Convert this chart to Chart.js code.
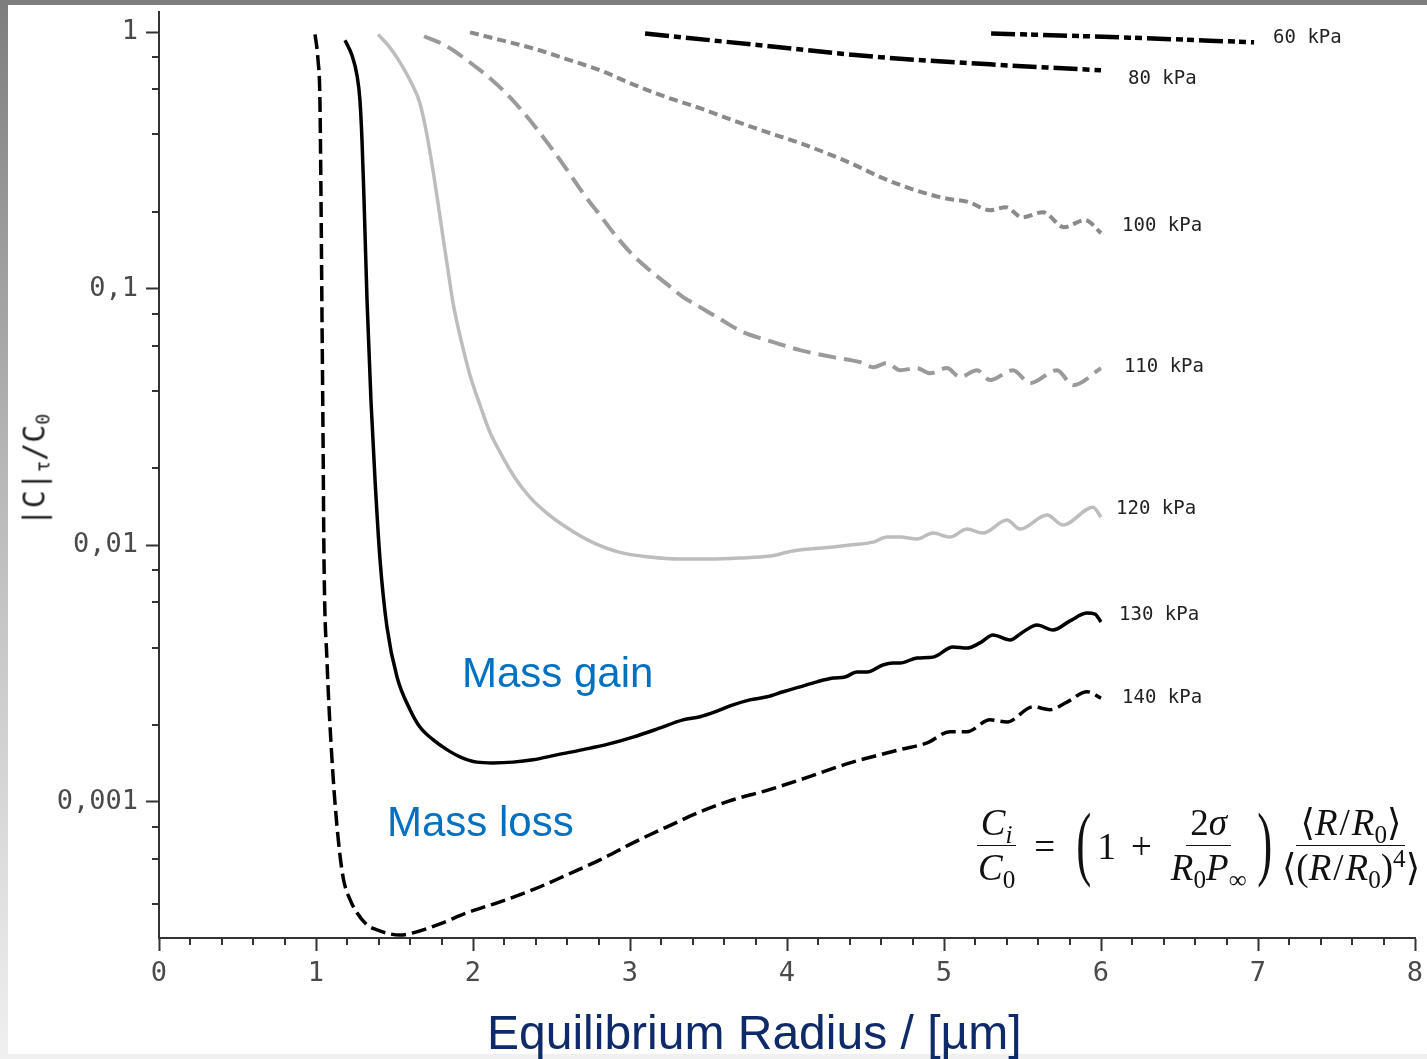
<!DOCTYPE html>
<html>
<head>
<meta charset="utf-8">
<title>Equilibrium radius vs concentration</title>
<script src="https://cdn.jsdelivr.net/npm/chart.js@4.4.1/dist/chart.umd.min.js"></script>
<style>
    html, body { margin: 0; padding: 0; }
    body {
        width: 1427px; height: 1059px; position: relative; overflow: hidden;
        background: linear-gradient(to bottom, #7e7e7e 0%, #b8b8b8 45%, #f0f0f0 100%);
    }
    #panel { position: absolute; left: 8px; top: 5px; width: 1419px; height: 1049px; background: #fff; }
    #chart { position: absolute; left: 0; top: 0; }
    .note { position: absolute; font-family: 'Liberation Sans', Arial, sans-serif; line-height: 1; white-space: nowrap; }
    .mass { font-size: 42px; color: #0070c0; }
    #xTitle { font-size: 48px; color: #0f2a68; left: 487px; top: 1009px; }
    #yTitle {
        position: absolute; left: 34px; top: 470px; white-space: nowrap;
        font-family: 'DejaVu Sans Mono', monospace; font-size: 30px; color: #222;
        transform: translate(-50%, -50%) rotate(-90deg);
    }
    #yTitle sub { font-size: 62%; vertical-align: -0.25em; line-height: 0; }
    #formula {
        position: absolute; left: 974px; top: 800px; height: 92px;
        display: flex; align-items: center;
        font-family: 'Liberation Serif', 'DejaVu Serif', serif; font-size: 37px; color: #111;
    }
    #formula .fr { display: inline-flex; flex-direction: column; align-items: center; }
    #formula .num { border-bottom: 1.5px solid #111; padding: 0 4px 2px; line-height: 1.05; }
    #formula .den { line-height: 1.05; padding: 3px 4px 0; }
    #formula .big { font-size: 82px; font-weight: 100; line-height: 1; display: inline-block; transform: scaleX(0.55); margin: -6px 0 0; }
    #formula .op { margin: 0 15px; }
    #formula .sl { margin: 0 2px; }
    #formula sub, #formula sup { font-size: 68%; line-height: 0; }
</style>
</head>
<body>
<div id="panel"></div>
<canvas id="chart" width="1427" height="1059"></canvas>

<div id="yTitle">|C|<sub>τ</sub>/C<sub>0</sub></div>
<div class="note mass" style="left:462px; top:652px;">Mass gain</div>
<div class="note mass" style="left:387px; top:801px;">Mass loss</div>
<div id="xTitle" class="note">Equilibrium Radius / [µm]</div>
<div id="formula">
    <span class="fr"><span class="num"><i>C<sub>i</sub></i></span><span class="den"><i>C</i><sub>0</sub></span></span>
    <span class="op">=</span>
    <span class="big">(</span>
    <span>1</span><span class="op">+</span>
    <span class="fr"><span class="num">2<i>σ</i></span><span class="den"><i>R</i><sub>0</sub><i>P</i><sub>∞</sub></span></span>
    <span class="big">)</span>
    <span class="fr"><span class="num">⟨<i>R</i><span class="sl">/</span><i>R</i><sub>0</sub>⟩</span><span class="den">⟨(<i>R</i><span class="sl">/</span><i>R</i><sub>0</sub>)<sup>4</sup>⟩</span></span>
</div>

<script>
// equilibrium radius (µm) and |C|τ/C0 for each pressure
const r60 = [5.3, 6.121, 6.975];
const c60 = [0.99, 0.956, 0.914];

const r80 = [3.096, 3.828, 4.529, 5.293, 6.0];
const c80 = [0.99, 0.89, 0.806, 0.75, 0.711];

const r100 = [1.981, 2.172, 2.382, 2.599, 2.809, 3.019, 3.236, 3.446, 3.656, 3.873, 4.083, 4.401,
              4.611, 4.822, 5.006, 5.159, 5.293, 5.395, 5.497, 5.631, 5.764, 5.898, 6.0];
const c100 = [1.0, 0.934, 0.866, 0.785, 0.711, 0.627, 0.558, 0.506, 0.454, 0.408, 0.37, 0.31,
              0.27, 0.242, 0.2256, 0.2177, 0.2026, 0.208, 0.19, 0.199, 0.174, 0.1853, 0.165];

const r110 = [1.688, 1.822, 1.962, 2.108, 2.236, 2.363, 2.490, 2.592, 2.701, 2.809, 2.917, 3.019,
              3.127, 3.236, 3.338, 3.446, 3.554, 3.720, 3.873, 4.083, 4.293, 4.465, 4.548, 4.637,
              4.720, 4.828, 4.911, 5.019, 5.102, 5.210, 5.293, 5.439, 5.548, 5.720, 5.822, 6.0];
const c110 = [0.965, 0.89, 0.778, 0.662, 0.558, 0.454, 0.36, 0.295, 0.236, 0.1937, 0.159, 0.1353,
              0.118, 0.1043, 0.0929, 0.0849, 0.0776, 0.0678, 0.0631, 0.0577, 0.0542, 0.0518, 0.0495, 0.0514,
              0.0482, 0.0491, 0.0469, 0.0491, 0.0453, 0.0482, 0.0441, 0.0482, 0.0429, 0.0482, 0.0421, 0.0491];

const r120 = [1.395, 1.465, 1.535, 1.599, 1.662, 1.707, 1.745, 1.777, 1.809, 1.841, 1.873, 1.924,
              1.981, 2.045, 2.108, 2.172, 2.268, 2.363, 2.478, 2.592, 2.745, 2.930, 3.127, 3.318,
              3.510, 3.701, 3.892, 4.038, 4.293, 4.401, 4.548, 4.637, 4.720, 4.828, 4.930, 5.038,
              5.146, 5.248, 5.401, 5.484, 5.656, 5.758, 5.949, 6.0];
const c120 = [0.982, 0.882, 0.764, 0.65, 0.529, 0.397, 0.29, 0.216, 0.159, 0.118, 0.088, 0.0631,
              0.0461, 0.0352, 0.0276, 0.0231, 0.0183, 0.0154, 0.01325, 0.0118, 0.0104, 0.00942, 0.00901, 0.00885,
              0.00885, 0.00893, 0.00909, 0.00951, 0.00986, 0.01004, 0.0103, 0.01078, 0.01078, 0.01059, 0.01117, 0.01078,
              0.01158, 0.01117, 0.01256, 0.01158, 0.01313, 0.012, 0.0141, 0.0129];

const r130 = [1.185, 1.229, 1.261, 1.280, 1.293, 1.306, 1.325, 1.350, 1.376, 1.408, 1.452, 1.516, 1.599,
              1.662, 1.745, 1.834, 1.917, 2.025, 2.127, 2.255, 2.382, 2.541, 2.701, 2.860,
              3.019, 3.178, 3.338, 3.446, 3.554, 3.656, 3.764, 3.873, 3.975, 4.083, 4.191, 4.293,
              4.369, 4.446, 4.510, 4.611, 4.675, 4.720, 4.828, 4.930, 5.057, 5.146, 5.229, 5.312,
              5.420, 5.503, 5.592, 5.694, 5.803, 5.911, 5.962, 6.0];
const c130 = [0.931, 0.814, 0.68, 0.543, 0.38, 0.2215, 0.0904, 0.0368, 0.018, 0.00877, 0.00481, 0.00307, 0.00229,
              0.00196, 0.00175, 0.0016, 0.0015, 0.00143, 0.00142, 0.00143, 0.00146, 0.00153, 0.0016, 0.00168,
              0.00179, 0.00193, 0.00209, 0.00215, 0.00226, 0.00239, 0.0025, 0.00257, 0.00269, 0.00281, 0.00294, 0.00304,
              0.00307, 0.00321, 0.00321, 0.00342, 0.00348, 0.00348, 0.00364, 0.00367, 0.00402, 0.00398, 0.00417, 0.00448,
              0.00428, 0.0046, 0.0049, 0.00468, 0.00508, 0.00545, 0.0054, 0.00503];

const r140 = [0.994, 1.013, 1.025, 1.032, 1.038, 1.045, 1.051, 1.070, 1.102, 1.134,
              1.172, 1.217, 1.261, 1.325, 1.389, 1.471, 1.535, 1.618, 1.790, 1.962, 2.172, 2.382,
              2.599, 2.809, 3.019, 3.236, 3.446, 3.656, 3.873, 4.083, 4.401, 4.720, 4.892, 5.038,
              5.146, 5.293, 5.401, 5.567, 5.675, 5.783, 5.911, 6.0];
const c140 = [0.982, 0.778, 0.543, 0.2215, 0.0804, 0.0257, 0.00877, 0.00356, 0.00146, 0.0008,
              0.000511, 0.000416, 0.00037, 0.000332, 0.000317, 0.000306, 0.000303, 0.000309, 0.000335, 0.00037, 0.000408, 0.000455,
              0.00052, 0.000595, 0.000693, 0.0008, 0.000915, 0.00102, 0.00111, 0.00122, 0.00142, 0.0016, 0.0017, 0.00188,
              0.00188, 0.00209, 0.00205, 0.00235, 0.00229, 0.00245, 0.00269, 0.00254];

// y-axis labelled decades
const yMajorTicks = [0.001, 0.01, 0.1, 1];

// curve labels: text and where they sit (data coordinates)
const curveLabels = ['60 kPa', '80 kPa', '100 kPa', '110 kPa', '120 kPa', '130 kPa', '140 kPa'];
const labelX = [7.096, 6.172, 6.134, 6.146, 6.096, 6.115, 6.134];
const labelY = [0.948, 0.656, 0.1755, 0.0495, 0.01386, 0.00535, 0.00255];

const toPoints = (xs, ys) => xs.map((x, i) => ({ x: x, y: ys[i] }));

const series = (label, xs, ys, color, width, dash) => ({
    label: label,
    data: toPoints(xs, ys),
    borderColor: color,
    borderWidth: width,
    borderDash: dash,
    borderCapStyle: 'butt',
    borderJoinStyle: 'round',
    pointRadius: 0,
    cubicInterpolationMode: 'monotone',
    fill: false
});

// short minor ticks and the pressure labels
const extrasPlugin = {
    id: 'extras',
    afterDraw(chart) {
        const { ctx, scales: { x, y } } = chart;
        ctx.save();
        ctx.strokeStyle = '#333';
        ctx.lineWidth = 2;
        ctx.beginPath();
        for (let i = 1; i < 40; i++) {
            if (i % 5 === 0) continue;
            const px = Math.round(x.getPixelForValue(i / 5));
            ctx.moveTo(px, y.bottom);
            ctx.lineTo(px, y.bottom + 7);
        }
        for (let e = -4; e <= 0; e++) {
            for (const m of [2, 4, 6, 8]) {
                const v = m * Math.pow(10, e);
                if (v < y.min || v > y.max) continue;
                const py = Math.round(y.getPixelForValue(v));
                ctx.moveTo(x.left - 7, py);
                ctx.lineTo(x.left, py);
            }
        }
        ctx.stroke();

        ctx.fillStyle = '#222';
        ctx.font = '19px "DejaVu Sans Mono", monospace';
        ctx.textAlign = 'left';
        ctx.textBaseline = 'middle';
        curveLabels.forEach((t, i) => {
            ctx.fillText(t, x.getPixelForValue(labelX[i]), y.getPixelForValue(labelY[i]));
        });
        ctx.restore();
    }
};

const tickFont = { family: '"DejaVu Sans Mono", monospace', size: 27 };

new Chart(document.getElementById('chart').getContext('2d'), {
    type: 'line',
    data: {
        datasets: [
            series('60 kPa', r60, c60, '#000', 4.5, [24, 5, 7, 4, 7, 5]),
            series('80 kPa', r80, c80, '#000', 4.5, [24, 5, 7, 5]),
            series('100 kPa', r100, c100, '#8a8a8a', 4, [9, 5]),
            series('110 kPa', r110, c110, '#9a9a9a', 4, [18, 8]),
            series('120 kPa', r120, c120, '#bdbdbd', 3.5, []),
            series('130 kPa', r130, c130, '#000', 3.5, []),
            series('140 kPa', r140, c140, '#000', 3.5, [15, 6])
        ]
    },
    options: {
        responsive: false,
        animation: false,
        layout: { padding: { left: 0, right: 12, top: 12, bottom: 0 } },
        plugins: {
            legend: { display: false },
            tooltip: { enabled: false }
        },
        scales: {
            x: {
                type: 'linear',
                min: 0,
                max: 8,
                afterFit: (scale) => {
                    scale.height = 121;
                    scale.paddingLeft = 0;
                    scale.paddingRight = 0;
                },
                ticks: { stepSize: 1, color: '#4a4a4a', font: tickFont, padding: 7, maxRotation: 0 },
                grid: { drawOnChartArea: false, drawTicks: true, tickLength: 13, tickColor: '#333', tickWidth: 2 },
                border: { color: '#333', width: 2 }
            },
            y: {
                type: 'logarithmic',
                min: 0.000295,
                max: 1.2,
                afterFit: (scale) => {
                    scale.width = 159;
                    scale.paddingTop = 0;
                    scale.paddingBottom = 0;
                },
                afterBuildTicks: (scale) => {
                    scale.ticks = yMajorTicks.map(v => ({ value: v, major: true }));
                },
                ticks: {
                    color: '#4a4a4a',
                    font: tickFont,
                    padding: 8,
                    callback: (v) => String(v).replace('.', ',')
                },
                grid: { drawOnChartArea: false, drawTicks: true, tickLength: 13, tickColor: '#333', tickWidth: 2 },
                border: { color: '#333', width: 2 }
            }
        }
    },
    plugins: [extrasPlugin]
});
</script>
</body>
</html>
